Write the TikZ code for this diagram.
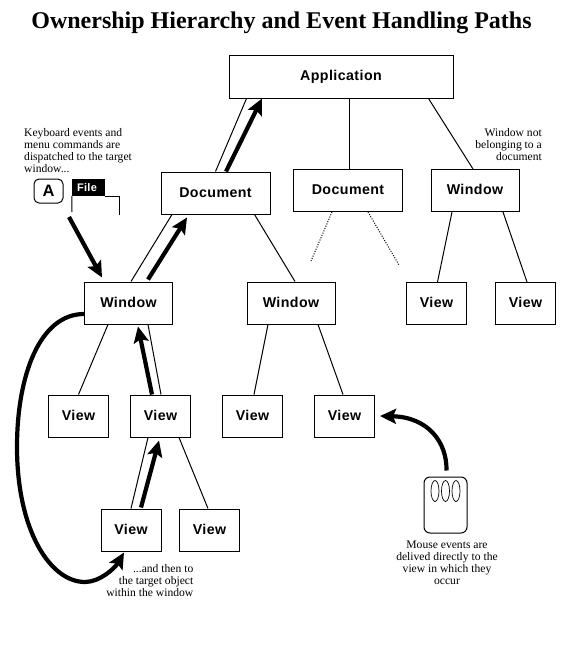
\documentclass[tikz,border=0pt]{standalone}
\usepackage{fontspec}
\setmainfont{Liberation Serif}
\newfontfamily\boxfont[LetterSpace=3]{Liberation Sans}
\usetikzlibrary{arrows.meta,shapes.geometric}
\tikzset{
    box/.style={draw,line width=1pt,inner sep=0pt,fill=white,text height=10pt,text depth=1.5pt,font=\boxfont\fontsize{14.2}{15}\selectfont\bfseries},
    wbox/.style={box,minimum width=88pt,minimum height=42pt},
    dbox/.style={box,minimum width=109pt,minimum height=42pt},
    vbox/.style={box,minimum width=60pt,minimum height=42pt},
    note/.style={font=\fontsize{11.6}{12}\selectfont,inner sep=0pt},
    tie/.style={line width=1pt},
    flow/.style={line width=4.2pt,-{Stealth[length=16pt,width=15pt,inset=3pt]}}
}
\begin{document}
\begin{tikzpicture}[x=1pt,y=-1pt]
    \useasboundingbox (0,0) rectangle (576,648);
    \node[font=\fontsize{24}{28}\selectfont\bfseries,inner sep=0pt] (title) at (281.5,23) {Ownership Hierarchy and Event Handling Paths};

    \node[box,minimum width=224pt,minimum height=43pt] (App) at (341,76.5) {Application};
    \node[dbox] (Doc1) at (215.5,193) {Document};
    \node[dbox] (Doc2) at (348,190.5) {Document};
    \node[wbox] (Win3) at (475,190.5) {Window};
    \node[wbox] (Win1) at (128.5,303) {Window};
    \node[wbox] (Win2) at (291,303) {Window};
    \node[vbox] (View1) at (436.5,303.5) {View};
    \node[vbox] (View2) at (525.5,303.5) {View};
    \node[vbox] (View3) at (78.5,416) {View};
    \node[vbox] (View4) at (160.5,416) {View};
    \node[vbox] (View5) at (252.5,416) {View};
    \node[vbox] (View6) at (344.5,416) {View};
    \node[vbox] (View7) at (131,530) {View};
    \node[vbox] (View8) at (209.5,530) {View};

    \draw[tie] ([xshift=18pt]App.south west) to (Doc1.north);
    \draw[tie] ([xshift=8.5pt]App.south) to ([xshift=1.5pt]Doc2.north);
    \draw[tie] ([xshift=-25pt]App.south east) to ([xshift=-2pt]Win3.north);
    \draw[tie] ([xshift=11.5pt]Doc1.south west) to ([xshift=2.5pt]Win1.north);
    \draw[tie] ([xshift=-16pt]Doc1.south east) to ([xshift=4pt]Win2.north);
    \draw[tie,dash pattern=on 1pt off 1.5pt] ([xshift=-16pt]Doc2.south) to ++(-21,49);
    \draw[tie,dash pattern=on 1pt off 1.5pt] ([xshift=20pt]Doc2.south) to ++(31,53);
    \draw[tie] ([xshift=-23pt]Win3.south) to ([xshift=1pt]View1.north);
    \draw[tie] ([xshift=28pt]Win3.south) to ([xshift=1.5pt]View2.north);
    \draw[tie] ([xshift=-20.5pt]Win1.south) to (View3.north);
    \draw[tie] ([xshift=19.5pt]Win1.south) to ([xshift=.5pt]View4.north);
    \draw[tie] ([xshift=-23pt]Win2.south) to ([xshift=1.5pt]View5.north);
    \draw[tie] ([xshift=27pt]Win2.south) to ([xshift=-1.5pt]View6.north);
    \draw[tie] ([xshift=-12.5pt]View4.south) to (View7.north);
    \draw[tie] ([xshift=18.5pt]View4.south) to ([xshift=-1.5pt]View8.north);

    % event paths
    \draw[flow] ([xshift=10.5pt]Doc1.north) to ([xshift=-79pt]App.south);
    \draw[flow] ([xshift=19.5pt,yshift=2pt]Win1.north) to ([xshift=-28.5pt,yshift=-3pt]Doc1.south);
    \draw[flow] ([xshift=-8.5pt]View4.north) to ([xshift=9.5pt,yshift=-2pt]Win1.south);
    \draw[flow] ([xshift=10pt,yshift=1pt]View7.north) to ([xshift=-1.5pt,yshift=-3pt]View4.south);
    \draw[flow] ([yshift=-11pt]Win1.west) .. controls (40,314) and (17,375) .. (17,447)
        .. controls (17,530) and (50,582) .. (85,582)
        .. controls (100,582) and (115,568) .. ([xshift=-7pt,yshift=-1pt]View7.south);

    % keyboard
    \node[draw,line width=1pt,rounded corners=5pt,minimum width=29pt,minimum height=24pt,inner sep=0pt,font=\boxfont\fontsize{16.5}{17}\selectfont\bfseries] (KeyA) at (48.5,191) {A};
    \node[fill=black,text=white,minimum width=33pt,minimum height=17pt,text width=23pt,align=left,inner sep=0pt,font=\boxfont\fontsize{11}{12}\selectfont\bfseries] (File) at (88.5,187.5) {File};
    \coordinate (Menu1) at (72,212);
    \coordinate (Menu2) at (119.5,215);
    \draw[tie] (File.south west) to (Menu1);
    \draw[tie] (File.south east) -- (Menu2 |- File.south) -- (Menu2);
    \coordinate (KeyStart) at (69,217);
    \draw[flow] (KeyStart) to ([xshift=-26.5pt,yshift=4pt]Win1.north);
    \node[note,align=left,anchor=north west] (KeyText) at (24,128.5) {Keyboard events and\\menu commands are\\dispatched to the target\\window...};

    % mouse
    \node[draw,line width=1pt,rounded corners=6pt,minimum width=43pt,minimum height=56pt,inner sep=0pt] (Mouse) at (445.5,505) {};
    \foreach \x/\name in {435/B1,445.5/B2,456/B3}
        \node[draw,line width=0.7pt,ellipse,minimum width=8pt,minimum height=21pt,inner sep=0pt] (\name) at (\x,491) {};
    \draw[flow] ([xshift=1pt,yshift=6pt]Mouse.north) .. controls (447,442) and (428,417) .. ([xshift=5pt]View6.east);
    \node[note,align=center,anchor=north] (MouseText) at (447,540.5) {Mouse events are\\delived directly to the\\view in which they\\occur};

    \node[note,align=right,anchor=north east] (WinText) at (542,128.5) {Window not\\belonging to a\\document};
    \node[note,align=right,anchor=north east] (ViewText) at (193.5,564.5) {...and then to\\the target object\\within the window};
\end{tikzpicture}
\end{document}
